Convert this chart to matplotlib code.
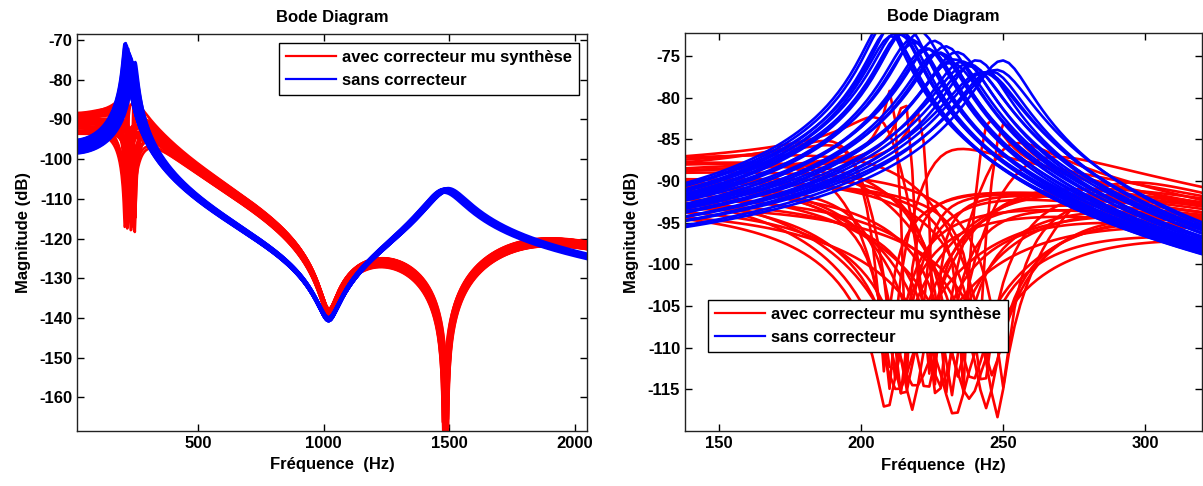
import numpy as np
import matplotlib.pyplot as plt
from matplotlib.lines import Line2D

plt.rcParams['font.family'] = ['Liberation Sans', 'DejaVu Sans']
plt.rcParams['font.weight'] = 'bold'
plt.rcParams['axes.labelweight'] = 'bold'
plt.rcParams['axes.titleweight'] = 'bold'
plt.rcParams['axes.unicode_minus'] = False
plt.rcParams['font.size'] = 12

# frequency vector (Hz)
freq = np.arange(16, 2050, 2.0)

# --- sans correcteur: 30 samples of the uncertain plant ---
f1 = [208, 209, 210, 211, 212, 213, 214, 215, 216, 218, 219, 221, 223, 224, 226,
      227, 228, 230, 232, 233, 234, 236, 238, 239, 241, 243, 244, 246, 248, 250]
z1 = [0.030, 0.029, 0.031, 0.033, 0.029, 0.032, 0.032, 0.031, 0.030, 0.033,
      0.034, 0.031, 0.035, 0.036, 0.034, 0.037, 0.036, 0.035, 0.040, 0.039,
      0.037, 0.038, 0.042, 0.041, 0.036, 0.045, 0.043, 0.040, 0.042, 0.034]
kb_db = [-95.2, -95.4, -95.8, -96.0, -95.3, -95.7, -96.1, -96.2, -95.6, -96.4,
         -96.5, -96.0, -96.9, -96.8, -96.3, -97.0, -97.2, -96.7, -97.5, -97.3,
         -96.9, -97.8, -97.2, -97.7, -98.1, -97.6, -98.0, -98.5, -97.9, -98.6]
f2 = [1478, 1484, 1490, 1476, 1482, 1489, 1486, 1481, 1475, 1492,
      1493, 1480, 1488, 1478, 1484, 1490, 1494, 1479, 1487, 1482,
      1483, 1491, 1477, 1487, 1489, 1485, 1479, 1481, 1493, 1486]
z2 = 0.048
fz0, zz0 = 1020, 0.034

# --- avec correcteur mu synthese ---
kr_db = [-88.9, -93.4, -90.8, -90.0, -89.6, -91.0, -91.3, -91.8, -89.9, -93.2,
         -90.4, -89.9, -90.9, -88.7, -89.9, -92.8, -90.2, -90.9, -91.2, -93.6,
         -88.8, -90.9, -91.4, -89.2, -90.9, -90.2, -92.3, -88.4, -93.3, -89.7]
fp = [199, 243, 225, 196, 197, 233, 216, 245, 211, 247,
      230, 216, 219, 209, 221, 250, 237, 226, 256, 272,
      224, 244, 241, 216, 249, 253, 261, 228, 281, 253]
zp = [0.05, 0.2, 0.06, 0.12, 0.06, 0.35, 0.10, 0.2, 0.0075, 0.15,
      0.4, 0.0088, 0.2, 0.04, 0.0102, 0.05, 0.25, 0.08, 0.08, 0.25,
      0.15, 0.0147, 0.3, 0.2, 0.015, 0.12, 0.18, 0.15, 0.1, 0.1]
zz1 = [0.004, 0.012, 0.0048, 0.0092, 0.0057, 0.0185, 0.0056, 0.0118, 0.0014, 0.0097,
       0.0215, 0.0014, 0.0115, 0.0048, 0.0014, 0.0055, 0.0136, 0.0047, 0.0065, 0.0141,
       0.0091, 0.002, 0.0166, 0.0139, 0.0019, 0.0068, 0.01, 0.0102, 0.0079, 0.0056]
zr0 = 0.025
zz2 = 0.0008
fc = [260, 1280, 1830, 1700]
zc = [0.5, 0.3, 0.2, 0.7]


def so(f0, z):
    r = freq / f0
    return 1 - r**2 + 2j * z * r


def db(h):
    return 20 * np.log10(np.abs(h))


blue = []
red = []
for i in range(len(f1)):
    hb = 10**(kb_db[i] / 20) * so(fz0, zz0) / (so(f1[i], z1[i]) * so(f2[i], z2))
    blue.append(db(hb))
    hr = 10**(kr_db[i] / 20) * so(f1[i], zz1[i]) / so(fp[i], zp[i]) * so(fz0, zr0) * so(f2[i], zz2)
    for a, b in zip(fc, zc):
        hr = hr / so(a, b)
    red.append(db(hr))

fig = plt.figure(figsize=(12.03, 4.86), dpi=100)
ax1 = fig.add_axes([0.064, 0.1138, 0.424, 0.816])
ax2 = fig.add_axes([0.5694, 0.1132, 0.4298, 0.818])


def draw(ax, xlim, ylim, xticks, yticks):
    for y in red:
        ax.plot(freq, y, color='#ff0000', lw=1.9)
    for y in blue:
        ax.plot(freq, y, color='#0000ff', lw=1.9)
    ax.set_xlim(xlim)
    ax.set_ylim(ylim)
    ax.set_xticks(xticks)
    ax.set_yticks(yticks)
    ax.tick_params(direction='in', top=True, right=True, length=5, width=1, labelsize=12)
    for s in ax.spines.values():
        s.set_linewidth(1)
        s.set_color('#222222')
    ax.set_title('Bode Diagram', fontsize=12, pad=9)
    ax.set_xlabel('Fréquence  (Hz)', fontsize=12, labelpad=5)
    ax.set_ylabel('Magnitude (dB)', fontsize=12, labelpad=6)


draw(ax1, (18, 2048), (-168.4, -68.5), [500, 1000, 1500, 2000], list(range(-70, -161, -10)))
draw(ax2, (138, 320), (-120, -72.3), [150, 200, 250, 300], list(range(-75, -116, -5)))

handles = [Line2D([], [], color='#ff0000', lw=1.6), Line2D([], [], color='#0000ff', lw=1.6)]
labels = ['avec correcteur mu synthèse', 'sans correcteur']
leg_kw = dict(frameon=True, fancybox=False, edgecolor='k', framealpha=1,
              handlelength=3.0, handletextpad=0.4, borderaxespad=0, fontsize=12)
l1 = ax1.legend(handles, labels, loc='upper right', bbox_to_anchor=(0.984, 0.977), **leg_kw)
l2 = ax2.legend(handles, labels, loc='lower left', bbox_to_anchor=(0.0445, 0.199), **leg_kw)
for l in (l1, l2):
    l.get_frame().set_linewidth(1)

fig.savefig('out.png', dpi=100)
